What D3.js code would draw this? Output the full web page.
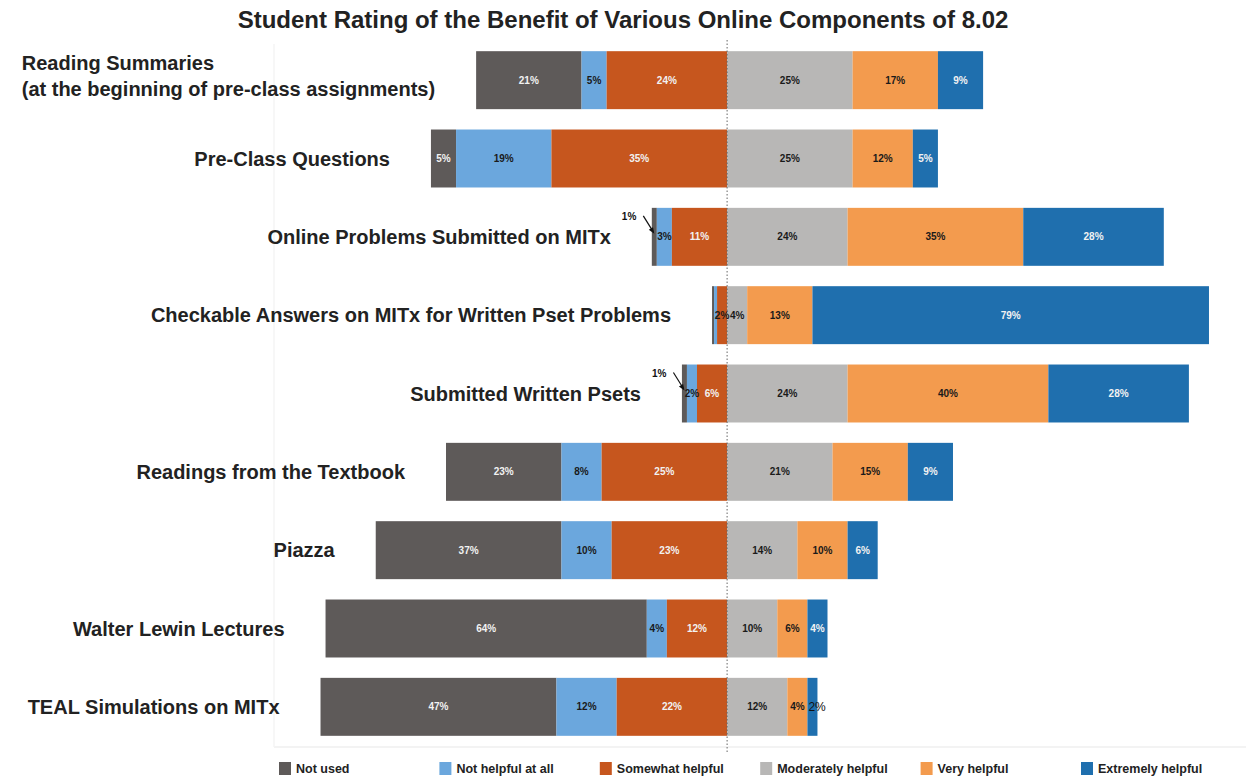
<!DOCTYPE html>
<html>
<head>
<meta charset="utf-8">
<script src="https://cdn.jsdelivr.net/npm/d3@7"></script>
<style>
  html, body { margin: 0; padding: 0; background: #fff; }
  svg { display: block; font-family: "Liberation Sans", Arial, Helvetica, sans-serif; }
</style>
</head>
<body>
<svg id="chart" width="1246" height="777"></svg>
<script>
// Survey components (rows, top to bottom)
const categories = [
  "Reading Summaries\n(at the beginning of pre-class assignments)",
  "Pre-Class Questions",
  "Online Problems Submitted on MITx",
  "Checkable Answers on MITx for Written Pset Problems",
  "Submitted Written Psets",
  "Readings from the Textbook",
  "Piazza",
  "Walter Lewin Lectures",
  "TEAL Simulations on MITx"
];

// Rating scale, left to right
const ratings = ["Not used", "Not helpful at all", "Somewhat helpful",
                 "Moderately helpful", "Very helpful", "Extremely helpful"];

// Percent of students per rating, one value per component
const notUsed     = [21,  5,  1, 0.4,  1, 23, 37, 64, 47];
const notHelpful  = [ 5, 19,  3, 0.6,  2,  8, 10,  4, 12];
const somewhat    = [24, 35, 11,   2,  6, 25, 23, 12, 22];
const moderately  = [25, 25, 24,   4, 24, 21, 14, 10, 12];
const veryHelpful = [17, 12, 35,  13, 40, 15, 10,  6,  4];
const extremely   = [ 9,  5, 28,  79, 28,  9,  6,  4,  2];

const title = "Student Rating of the Benefit of Various Online Components of 8.02";

const colors = ["#5e5a59", "#6ba7dd", "#c6561e", "#b8b7b6", "#f39b4e", "#1f6fae"];
const lightText = [true, false, true, false, false, true];

const series = [notUsed, notHelpful, somewhat, moderately, veryHelpful, extremely];

const svg = d3.select("#chart");

const x = d3.scaleLinear().domain([-82, 97]).range([315.5, 1214]);
const y = d3.scaleBand().domain(categories).range([41, 746])
  .paddingInner(0.26).paddingOuter(0.13);

// faint plot frame
svg.append("line").attr("x1", 274).attr("x2", 1246).attr("y1", 747).attr("y2", 747)
  .attr("stroke", "#efefef").attr("stroke-width", 1.5);
svg.append("line").attr("x1", 274).attr("x2", 274).attr("y1", 44).attr("y2", 747)
  .attr("stroke", "#f5f5f5").attr("stroke-width", 1.5);

// Build stacked segments: the three negative ratings sit left of zero
const rows = categories.map((c, i) => {
  const vals = series.map(s => s[i]);
  let cur = -(vals[0] + vals[1] + vals[2]);
  const segs = vals.map((v, k) => {
    const seg = { cat: c, k, v, x0: cur, x1: cur + v, row: i };
    cur += v;
    return seg;
  });
  return { cat: c, segs, left: -(vals[0] + vals[1] + vals[2]) };
});

const g = svg.append("g");

rows.forEach(r => {
  const rowG = g.append("g");
  rowG.selectAll("rect").data(r.segs).join("rect")
    .attr("x", d => x(d.x0))
    .attr("y", y(r.cat))
    .attr("width", d => Math.max(0, x(d.x1) - x(d.x0)))
    .attr("height", y.bandwidth())
    .attr("fill", d => colors[d.k]);

  const cy = y(r.cat) + y.bandwidth() / 2;

  r.segs.forEach(d => {
    if (d.v < 1) return;
    const label = d.v + "%";
    if (d.v < 1.5) {
      // callout for a sliver segment
      const ex = x(d.x0) + 2.5, ey = cy - 3;
      rowG.append("text").attr("x", ex - 18).attr("y", ey - 14)
        .attr("text-anchor", "end").attr("font-size", 10).attr("font-weight", "bold")
        .attr("fill", "#111").text(label);
      rowG.append("line").attr("x1", ex - 11).attr("y1", ey - 18)
        .attr("x2", ex - 1).attr("y2", ey - 2)
        .attr("stroke", "#111").attr("stroke-width", 1.2);
      rowG.append("path")
        .attr("d", `M${ex},${ey} l-5.5,-4 l4.2,-2.6 z`)
        .attr("fill", "#111");
      return;
    }
    if (d.k === 5 && d.v <= 2) {
      rowG.append("text").attr("x", x(d.x0) + 1).attr("y", cy + 4)
        .attr("font-size", 12).attr("fill", "#111").text(label);
      return;
    }
    const light = lightText[d.k] && d.v > 2;
    rowG.append("text")
      .attr("x", (x(d.x0) + x(d.x1)) / 2)
      .attr("y", cy + 3.5)
      .attr("text-anchor", "middle")
      .attr("font-size", 10).attr("font-weight", "bold")
      .attr("fill", light ? "#f2f2f2" : "#1a1a1a")
      .text(label);
  });

  // category label
  const lines = r.cat.split("\n");
  const right = x(r.left) - 41;
  const t = rowG.append("text").attr("font-size", 20).attr("font-weight", "bold").attr("fill", "#222");
  if (lines.length === 1) {
    t.attr("x", right).attr("y", cy + 7).attr("text-anchor", "end").text(lines[0]);
  } else {
    const spans = lines.map((l, j) => t.append("tspan").attr("y", cy - 10 + j * 26).text(l));
    const w = d3.max(spans.map(s => s.node().getComputedTextLength()));
    spans.forEach(s => s.attr("x", right - w));
  }
});

// zero line
svg.append("line").attr("x1", x(0)).attr("x2", x(0)).attr("y1", 40).attr("y2", 752)
  .attr("stroke", "#666").attr("stroke-width", 1).attr("stroke-dasharray", "1.5,2");

// title
svg.append("text").attr("x", 623).attr("y", 28).attr("text-anchor", "middle")
  .attr("font-size", 24).attr("font-weight", "bold").attr("fill", "#222").text(title);

// legend
const lx = d3.scalePoint().domain(ratings).range([279, 1081]);
const leg = svg.append("g").selectAll("g").data(ratings).join("g")
  .attr("transform", d => `translate(${lx(d)},762)`);
leg.append("rect").attr("width", 12).attr("height", 13).attr("fill", (d, i) => colors[i]);
leg.append("text").attr("x", 17).attr("y", 11).attr("font-size", 12.5)
  .attr("font-weight", "bold").attr("fill", "#222").text(d => d);
</script>
</body>
</html>
